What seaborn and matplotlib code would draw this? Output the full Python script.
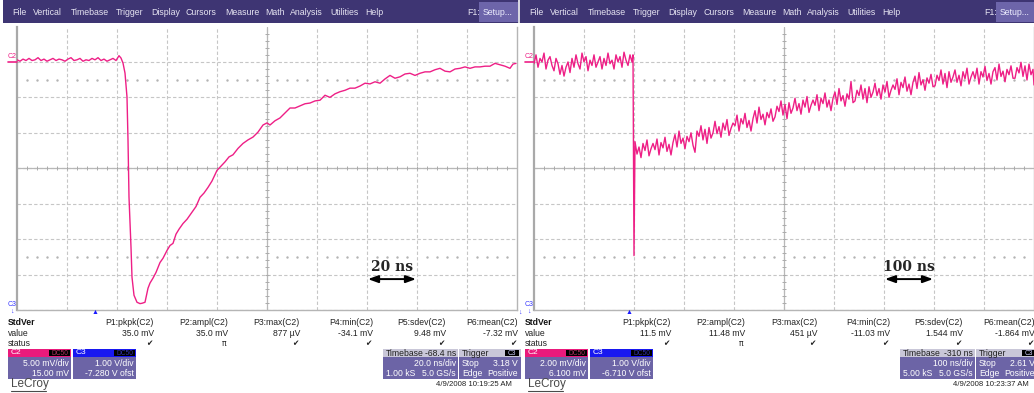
import matplotlib
matplotlib.use("Agg")
import numpy as np
import pandas as pd
import matplotlib.pyplot as plt
import seaborn as sns
from matplotlib.patches import Rectangle

# ---------------- data ----------------
# left capture: 20 ns/div, 5 mV/div, offset 15 mV, delay -68.4 ns
left_t = [-31.6, -30.4, -29.2, -28.0, -26.8, -25.6, -24.4, -23.2, -22.0, -20.8,
          -19.6, -18.4, -17.2, -16.0, -14.8, -13.6, -12.4, -11.2, -10.0, -8.8,
          -7.6, -6.4, -5.2, -4.0, -2.8, -1.6, -0.4, 0.8, 2.0, 3.2,
          4.4, 5.6, 6.8, 8.0, 9.2,
          10.0, 10.8, 11.6, 12.4, 12.8, 13.2, 14.0, 14.4, 15.2, 16.4,
          17.6, 18.4, 19.6, 20.8, 21.6, 22.8, 24.0, 25.6, 26.8, 28.4,
          29.6, 30.8, 32.0, 33.2, 34.8, 36.4, 38.4, 40.0, 41.6, 43.2,
          44.8, 46.4, 48.4, 50.0, 51.6, 53.2, 54.8, 56.8, 58.8, 60.8,
          62.8, 64.8, 66.8, 68.4, 69.6, 71.6, 73.6, 75.6, 77.6, 79.6,
          81.6, 83.6, 85.6, 87.6, 89.6, 91.6, 93.6, 95.6, 97.6, 99.6,
          101.6, 103.6, 105.6, 107.6, 109.6, 111.6, 113.6, 115.6, 117.6, 119.6,
          121.6, 123.6, 125.6, 127.6, 129.6, 131.6, 133.6, 135.6, 137.6, 139.6,
          141.6, 143.6, 145.6, 147.6, 149.6, 151.6, 153.6, 155.6, 157.6, 159.6,
          161.6, 163.6, 165.6, 166.8, 168.0]
left_mv = [0.3, 0.1, 0.4, 0.2, 0.5, 0.2, 0.3, 0.6, 0.2, 0.4,
           0.1, 0.3, 0.5, 0.2, 0.4, 0.3, 0.1, 0.4, 0.6, 0.2,
           0.3, 0.5, 0.1, 0.3, 0.2, 0.5, 0.3, 0.6, 0.2, 0.4,
           0.1, 0.3, 0.5, 0.2, 0.88,
           0.55, -0.16, -1.57, -4.96, -11.03, -19.08, -26.14, -30.38, -32.92, -33.91,
           -34.1, -34.05, -33.91, -31.93, -31.2, -30.5, -29.7, -28.3, -27.7, -26.6,
           -25.9, -25.6, -24.3, -23.6, -22.8, -22.2, -21.2, -20.4, -19.1, -18.5,
           -17.7, -16.8, -15.3, -14.7, -14.1, -13.4, -13.1, -12.2, -11.5, -11.0,
           -10.6, -9.9, -8.9, -8.6, -8.9, -8.3, -7.9, -7.2, -6.5, -6.5,
           -6.2, -5.9, -5.8, -5.5, -5.4, -4.7, -5.0, -4.5, -4.2, -4.0,
           -3.7, -3.7, -3.4, -3.0, -3.1, -2.8, -3.0, -2.4, -1.9, -2.3,
           -2.1, -1.7, -1.6, -1.9, -1.6, -1.4, -1.4, -1.1, -0.9, -1.3,
           -1.4, -1.0, -0.9, -0.7, -0.9, -0.7, -0.7, -0.6, -0.6, -0.2,
           -0.4, -0.6, -0.9, -0.3, -0.2]

# right capture: 100 ns/div, 2 mV/div, offset 6.1 mV, delay -310 ns
right_t = [-190, -186, -182, -178, -174, -170, -166, -162, -158, -154,
           -150, -146, -142, -138, -134, -130, -126, -122, -118, -114,
           -110, -106, -102, -98, -94, -90, -86, -82, -78, -74,
           -70, -66, -62, -58, -54, -50, -46, -42, -38, -34,
           -30, -26, -22, -18, -14, -10, -6, -2, 2, 6,
           8, 10,
           12, 16, 20, 24, 28, 32, 36, 40, 44, 48,
           52, 56, 60, 64, 68, 72, 76, 80, 84, 88,
           92, 96, 100, 104, 108, 112, 116, 120, 124, 128,
           132, 136, 140, 144, 148, 152, 156, 160, 164, 168,
           172, 176, 180, 184, 188, 192, 196, 200, 204, 208,
           212, 216, 220, 224, 228, 232, 236, 240, 244, 248,
           252, 256, 260, 264, 268, 272, 276, 280, 284, 288,
           292, 296, 300, 304, 308, 312, 316, 320, 324, 328,
           332, 336, 340, 344, 348, 352, 356, 360, 364, 368,
           372, 376, 380, 384, 388, 392, 396, 400, 404, 408,
           412, 416, 420, 424, 428, 432, 436, 440, 444, 448,
           452, 456, 460, 464, 468, 472, 476, 480, 484, 488,
           492, 496, 500, 504, 508, 512, 516, 520, 524, 528,
           532, 536, 540, 544, 548, 552, 556, 560, 564, 568,
           572, 576, 580, 584, 588, 592, 596, 600, 604, 608,
           612, 616, 620, 624, 628, 632, 636, 640, 644, 648,
           652, 656, 660, 664, 668, 672, 676, 680, 684, 688,
           692, 696, 700, 704, 708, 712, 716, 720, 724, 728,
           732, 736, 740, 744, 748, 752, 756, 760, 764, 768,
           772, 776, 780, 784, 788, 792, 796, 800, 804, 808,
           810]
right_mv = [-0.2, 0.3, -0.4, 0.1, -0.1, 0.4, -0.5, 0.0, 0.2, -0.3,
            -0.6, 0.1, -0.2, -0.8, -0.3, -0.9, -0.4, -0.1, -0.7, 0.1,
            -0.4, 0.3, -0.2, -0.5, 0.4, -0.1, 0.2, -0.6, 0.0, -0.3,
            0.3, -0.4, -0.1, 0.2, -0.5, 0.1, -0.3, 0.4, -0.2, 0.0,
            -0.5, 0.3, -0.1, 0.2, -0.4, 0.45, 0.0, -0.3, 0.3, -0.1,
            0.3, -11.03,
            -4.6, -5.3, -4.9, -5.5, -4.7, -5.1, -4.5, -5.4, -5.0, -4.7,
            -5.05, -4.45, -5.35, -4.65, -4.95, -4.35, -5.15, -4.75, -5.35, -4.65,
            -4.2, -4.9, -4.0, -4.7, -4.4, -5.0, -4.3, -4.6, -4.1, -4.8,
            -5.2, -4.0, -4.3, -3.7, -4.5, -3.9, -4.7, -3.8, -4.4, -4.1,
            -3.45, -4.15, -3.75, -4.35, -3.55, -3.95, -3.35, -4.25, -3.85, -3.55,
            -3.7, -3.1, -4.0, -3.3, -3.6, -3.0, -3.8, -3.4, -4.0, -3.3,
            -2.85, -3.55, -2.65, -3.35, -3.05, -3.65, -2.95, -3.25, -2.75, -3.45,
            -3.2, -2.6, -2.9, -2.3, -3.1, -2.5, -3.3, -2.4, -3.0, -2.7,
            -2.15, -2.85, -2.45, -3.05, -2.25, -2.65, -2.05, -2.95, -2.55, -2.25,
            -2.55, -1.95, -2.85, -2.15, -2.45, -1.85, -2.65, -2.25, -2.85, -2.15,
            -1.8, -2.5, -1.6, -2.3, -2.0, -2.6, -1.9, -2.2, -1.2, -2.4,
            -2.3, -1.7, -2.0, -1.4, -2.2, -1.6, -2.4, -1.5, -2.1, -1.8,
            -1.3, -2.0, -1.6, -2.2, -1.4, -1.8, -1.2, -2.1, -1.7, -1.4,
            -1.65, -1.05, -1.95, -1.25, -1.55, -0.95, -1.75, -1.35, -1.95, -1.25,
            -0.9, -1.6, -0.7, -1.4, -1.1, -1.7, -1.0, -1.3, -0.8, -1.5,
            -1.45, -0.85, -1.15, -0.55, -1.35, -0.75, -1.55, -0.65, -1.25, -0.95,
            -0.55, -1.25, -0.85, -1.45, -0.65, -1.05, -0.45, -1.35, -0.95, -0.65,
            -1.05, -0.45, -1.35, -0.65, -0.95, -0.35, -1.15, -0.75, -1.35, -0.65,
            -0.42, -1.12, -0.22, -0.92, -0.62, -1.22, -0.52, -0.82, -0.32, -1.02,
            -1.02, -0.42, -0.72, -0.12, -0.92, -0.32, -1.12, -0.22, -0.82, -0.52,
            -1.4]

menu_items = ["File", "Vertical", "Timebase", "Trigger", "Display", "Cursors",
              "Measure", "Math", "Analysis", "Utilities", "Help"]
meas_names = ["P1:pkpk(C2)", "P2:ampl(C2)", "P3:max(C2)", "P4:min(C2)",
              "P5:sdev(C2)", "P6:mean(C2)"]
meas_status = ["\u2714", "\u03c0", "\u2714", "\u2714", "\u2714", "\u2714"]
left_values = ["35.0 mV", "35.0 mV", "877 \u00b5V", "-34.1 mV", "9.48 mV", "-7.32 mV"]
right_values = ["11.5 mV", "11.48 mV", "451 \u00b5V", "-11.03 mV", "1.544 mV", "-1.864 mV"]

left_info = dict(c2=("5.00 mV/div", "15.00 mV"), c3=("1.00 V/div", "-7.280 V ofst"),
                 tb=("-68.4 ns", "20.0 ns/div", "1.00 kS", "5.0 GS/s"),
                 trig=("3.18 V", "Positive"), date="4/9/2008 10:19:25 AM",
                 scale="20 ns", xlim=(-31.6, 168.4), ylim=(-35.0, 5.0), trig_px=95)
right_info = dict(c2=("2.00 mV/div", "6.100 mV"), c3=("1.00 V/div", "-6.710 V ofst"),
                  tb=("-310 ns", "100 ns/div", "5.00 kS", "5.0 GS/s"),
                  trig=("2.61 V", "Positive"), date="4/9/2008 10:23:37 AM",
                  scale="100 ns", xlim=(-190.0, 810.0), ylim=(-14.1, 1.9), trig_px=112)

# ---------------- style ----------------
sns.set_style("white")
FONT = ["Liberation Sans", "DejaVu Sans"]
plt.rcParams["font.family"] = FONT

W, H = 1034, 393
fig = plt.figure(figsize=(W / 100, H / 100), dpi=100)

MENU = "#3e3573"
BODY = "#6c64a6"
HEAD_GRAY = "#c9c7d8"
TRACE = "#ee1f86"
GRIDC = "#c6c6c6"


def fx(x):
    return x / W


def fy(y):
    return 1 - y / H


def rect(x0, y0, x1, y1, color, z=1):
    fig.add_artist(Rectangle((fx(x0), fy(y1)), (x1 - x0) / W, (y1 - y0) / H,
                             transform=fig.transFigure, facecolor=color,
                             edgecolor="none", zorder=z))


def txt(x, y, s, ha="left", size=6.0, color="#111111", weight="normal", family=None):
    fig.text(fx(x), fy(y), s, ha=ha, va="center", fontsize=size, color=color,
             fontweight=weight, family=family or FONT, zorder=5)


def scope(off, t, mv, info, values):
    # menu bar
    rect(off + 3, 0, off + 518, 23, MENU)
    menu_x = [12, 33, 71, 116, 151, 186, 225, 265, 290, 330, 365]
    for name, mx in zip(menu_items, menu_x):
        txt(off + mx, 12.5, name, size=6.3, color="#e6e4f2")
    txt(off + 467, 12.5, "F1:", size=6.3, color="#e6e4f2")
    rect(off + 479, 2, off + 518, 22, "#6d65aa")
    txt(off + 498, 12.5, "Setup...", ha="center", size=6.3, color="#eeeeff")

    # grid axes
    ax = fig.add_axes([fx(off + 17), fy(310), 500 / W, 283.5 / H])
    ax.set_facecolor("white")
    x0, x1 = info["xlim"]
    y0, y1 = info["ylim"]
    dx = (x1 - x0) / 10
    dy = (y1 - y0) / 8
    for k in range(1, 10):
        ax.axvline(x0 + k * dx, color=GRIDC, lw=0.8, ls=(0, (3, 2)), zorder=0)
    for k in range(0, 8):
        ax.axhline(y0 + k * dy, color=GRIDC, lw=0.8, ls=(0, (3, 2)), zorder=0)
    cx = x0 + 5 * dx
    cy = y0 + 4 * dy
    ax.axvline(cx, color="#b8b8b8", lw=0.9, zorder=0)
    ax.axhline(cy, color="#b8b8b8", lw=0.9, zorder=0)
    ticks_x = x0 + dx * 0.2 * np.arange(1, 50)
    ticks_y = y0 + dy * 0.2 * np.arange(1, 40)
    ax.plot(ticks_x, np.full_like(ticks_x, cy), ls="none", marker="|", ms=3.5,
            mew=0.7, color="#ababab", zorder=0)
    ax.plot(np.full_like(ticks_y, cx), ticks_y, ls="none", marker="_", ms=3.5,
            mew=0.7, color="#ababab", zorder=0)
    dots_x = np.array([v for i, v in enumerate(ticks_x) if (i + 1) % 5 != 0])
    for row in (y1 - 1.5 * dy, y1 - 6.5 * dy):
        ax.plot(dots_x, np.full_like(dots_x, row), ls="none", marker="s", ms=0.7,
                color="#b4b4b4", zorder=0)

    df = pd.DataFrame({"t": t, "mv": mv})
    sns.lineplot(data=df, x="t", y="mv", ax=ax, color=TRACE, lw=1.0,
                 estimator=None, sort=False, zorder=3)
    ax.set_xlim(x0, x1)
    ax.set_ylim(y0, y1)
    ax.set_xticks([])
    ax.set_yticks([])
    ax.set_xlabel("")
    ax.set_ylabel("")
    ax.spines["top"].set_visible(False)
    ax.spines["left"].set_color("#a9a9a9")
    ax.spines["left"].set_linewidth(1.6)
    ax.spines["bottom"].set_color("#b5b5b5")
    ax.spines["right"].set_color("#b5b5b5")
    ax.spines["bottom"].set_linewidth(1.0)
    ax.spines["right"].set_linewidth(1.0)

    # scale arrow
    ax.annotate("", xy=(0.702, 0.109), xytext=(0.798, 0.109), xycoords="axes fraction",
                arrowprops=dict(arrowstyle="<|-|>,head_length=0.6,head_width=0.22",
                                color="black", lw=1.4, shrinkA=0, shrinkB=0))
    ax.text(0.75, 0.152, info["scale"], transform=ax.transAxes, ha="center",
            va="center", fontsize=10, fontweight="bold", family="DejaVu Serif")

    # channel markers
    txt(off + 12, 56, "C2", size=5, color=TRACE, ha="center")
    fig.add_artist(plt.Line2D([fx(off + 8), fx(off + 17)], [fy(61.5), fy(61.5)],
                              transform=fig.transFigure, color=TRACE, lw=1.2))
    txt(off + 12, 305, "C3", size=5, color="#3a3aff", ha="center")
    txt(off + 12, 311, "\u2193", size=5, color="#3a3aff", ha="center")
    txt(off + info["trig_px"], 313, "\u25b2", size=5, color="#1a1aff", ha="center")

    # measurement table
    txt(off + 8, 322.5, "StdVer", weight="bold", size=6.2)
    txt(off + 8, 333, "value", size=6.2, color="#222222")
    txt(off + 8, 343.5, "status", size=6.2, color="#222222")
    rights = [154, 228, 300, 373, 446, 518]
    for name, val, st, r in zip(meas_names, values, meas_status, rights):
        txt(off + r, 322.5, name, ha="right", size=6.2, color="#222222")
        txt(off + r, 333, val, ha="right", size=6.2, color="#222222")
        txt(off + r - 2, 343.5, st, ha="right", size=5.5, color="#222222",
            family=["DejaVu Sans"])

    # channel boxes
    def chan_box(x0b, x1b, head, label, bcol, lines):
        rect(off + x0b, 349, off + x1b, 379, BODY)
        rect(off + x0b, 349, off + x1b, 357, head)
        txt(off + x0b + 3, 353, label, size=6, color="white")
        rect(off + x1b - 22, 350, off + x1b - 1, 356.3, "black", z=2)
        txt(off + x1b - 11.5, 353.2, "DC50", ha="center", size=4.8, color=bcol)
        txt(off + x1b - 2, 363, lines[0], ha="right", size=6.2, color="white")
        txt(off + x1b - 2, 373, lines[1], ha="right", size=6.2, color="white")

    chan_box(8, 71, "#ea1a7c", "C2", "#b03060", info["c2"])
    chan_box(73, 136, "#1818f0", "C3", "#3030b0", info["c3"])

    # timebase box
    tb = info["tb"]
    rect(off + 383, 349, off + 458, 379, BODY)
    rect(off + 383, 349, off + 458, 357, HEAD_GRAY)
    txt(off + 386, 353, "Timebase", size=6.2, color="#202020")
    txt(off + 456, 353, tb[0], ha="right", size=6.2, color="#202020")
    txt(off + 456, 363, tb[1], ha="right", size=6.2, color="white")
    txt(off + 386, 373, tb[2], size=6.2, color="white")
    txt(off + 456, 373, tb[3], ha="right", size=6.2, color="white")
    # trigger box
    tr = info["trig"]
    rect(off + 459, 349, off + 521, 379, BODY)
    rect(off + 459, 349, off + 521, 357, HEAD_GRAY)
    txt(off + 462, 353, "Trigger", size=6.2, color="#202020")
    rect(off + 505, 350, off + 519, 356.3, "black", z=2)
    txt(off + 512, 353.2, "C3", ha="center", size=4.8, color="#d0d0ff")
    txt(off + 462, 363, "Stop", size=6.2, color="white")
    txt(off + 518, 363, tr[0], ha="right", size=6.2, color="white")
    txt(off + 462, 373, "Edge", size=6.2, color="white")
    txt(off + 518, 373, tr[1], ha="right", size=6.2, color="white")

    # logo + date
    txt(off + 11, 384, "LeCroy", size=8.5, color="#4a4a4a")
    fig.add_artist(plt.Line2D([fx(off + 11), fx(off + 46)], [fy(390.5), fy(390.5)],
                              transform=fig.transFigure, color="#4a4a4a", lw=0.8))
    txt(off + 512, 385, info["date"], ha="right", size=5.6, color="#222222")
    return ax


scope(0, left_t, left_mv, left_info, left_values)
rect(518, 0, 520, 23, "#d6d6e0", z=2)
scope(517, right_t, right_mv, right_info, right_values)
txt(520, 312, "\u2193", size=5, color="#3a3aff", ha="center")

fig.savefig("out.png", dpi=100)
